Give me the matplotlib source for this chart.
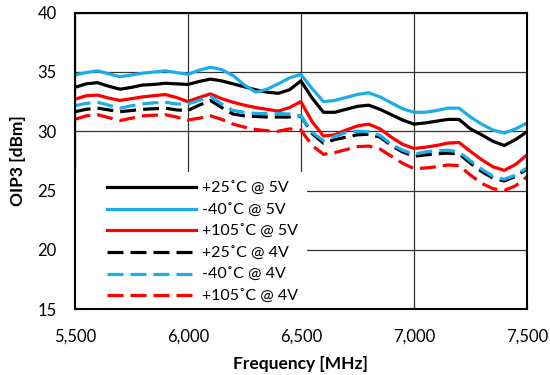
import matplotlib.pyplot as plt
from matplotlib.patches import Rectangle
from matplotlib.ticker import FuncFormatter

freq = list(range(5500, 7501, 50))

t25_5v = [33.7, 34.0, 34.1, 33.8, 33.55, 33.7, 33.9, 33.95, 34.05, 34.0,
          33.95, 34.2, 34.4, 34.25, 34.0, 33.75, 33.5, 33.3, 33.2, 33.5,
          34.25, 32.8, 31.6, 31.6, 31.85, 32.1, 32.2, 31.85, 31.4, 30.95,
          30.6, 30.7, 30.85, 31.0, 31.0, 30.2, 29.7, 29.15, 28.8, 29.3, 29.95]
tm40_5v = [34.75, 34.95, 35.1, 34.85, 34.6, 34.75, 34.9, 35.0, 35.1, 34.95,
           34.8, 35.15, 35.4, 35.2, 34.7, 33.9, 33.3, 33.55, 34.0, 34.5,
           34.8, 33.6, 32.5, 32.6, 32.85, 33.1, 33.25, 32.9, 32.4, 31.9,
           31.6, 31.6, 31.75, 31.95, 31.95, 31.2, 30.6, 30.1, 29.85, 30.2, 30.7]
t105_5v = [32.7, 33.0, 33.05, 32.8, 32.6, 32.75, 32.9, 33.0, 33.1, 32.85,
           32.5, 32.85, 33.15, 32.75, 32.45, 32.2, 32.0, 31.85, 31.7, 32.0,
           32.5, 30.8, 29.6, 29.7, 30.1, 30.45, 30.6, 30.2, 29.5, 28.9,
           28.55, 28.65, 28.8, 29.0, 29.05, 28.3, 27.6, 27.0, 26.7, 27.2, 28.0]
t25_4v = [31.65, 31.85, 31.95, 31.8, 31.65, 31.75, 31.85, 31.9, 31.95, 31.8,
          31.75, 32.2, 32.6, 32.0, 31.45, 31.3, 31.25, 31.2, 31.2, 31.2,
          31.3, 29.8, 29.0, 29.3, 29.5, 29.7, 29.75, 29.5, 28.8, 28.25,
          27.9, 28.0, 28.1, 28.15, 28.1, 27.3, 26.6, 26.05, 25.8, 26.2, 26.8]
tm40_4v = [32.15, 32.35, 32.45, 32.2, 31.95, 32.15, 32.3, 32.4, 32.45, 32.3,
           32.3, 32.6, 32.95, 32.3, 31.75, 31.6, 31.5, 31.5, 31.5, 31.45,
           31.3, 29.9, 29.2, 29.55, 29.9, 30.0, 29.95, 29.65, 28.9, 28.4,
           28.05, 28.25, 28.35, 28.4, 28.25, 27.5, 26.8, 26.2, 25.95, 26.3, 26.9]
t105_4v = [31.0, 31.3, 31.4, 31.15, 30.9, 31.1, 31.3, 31.35, 31.4, 31.2,
           30.95, 31.1, 31.3, 31.0, 30.6, 30.35, 30.15, 30.05, 30.0, 30.2,
           30.1, 28.8, 28.05, 28.2, 28.45, 28.7, 28.75, 28.5, 27.9, 27.3,
           26.85, 26.9, 27.0, 27.15, 27.1, 26.3, 25.6, 25.15, 25.0, 25.4, 26.15]

plt.rcParams['font.family'] = ['Lato', 'DejaVu Sans']

fig = plt.figure(figsize=(5.5, 3.75), dpi=100)
ax = fig.add_axes([0.136, 0.176, 0.822, 0.790])

black = '#000000'
blue = '#1AADE8'
red = '#FF0000'
dash = (5, 2.2)
lw = 2.3

ax.plot(freq, t25_5v, color=black, lw=lw, label='+25˚C @ 5V')
ax.plot(freq, tm40_5v, color=blue, lw=lw, label='-40˚C @ 5V')
ax.plot(freq, t105_5v, color=red, lw=lw, label='+105˚C @ 5V')
ax.plot(freq, t25_4v, color=black, lw=lw, ls=(0, dash), label='+25˚C @ 4V')
ax.plot(freq, tm40_4v, color=blue, lw=lw, ls=(0, dash), label='-40˚C @ 4V')
ax.plot(freq, t105_4v, color=red, lw=lw, ls=(0, dash), label='+105˚C @ 4V')

ax.set_xlim(5500, 7500)
ax.set_ylim(15, 40)
ax.set_xticks(range(5500, 7501, 500))
ax.set_yticks(range(15, 41, 5))
ax.xaxis.set_major_formatter(FuncFormatter(lambda v, p: f'{int(v):,}'))
ax.grid(True, color='#333333', lw=0.9)
ax.set_axisbelow(True)
ax.tick_params(direction='in', length=4, labelsize=12, color='#333333', pad=13)
ax.tick_params(axis='x', pad=14)
for s in ax.spines.values():
    s.set_linewidth(1.5)
    s.set_color('black')

ax.set_xlabel('Frequency [MHz]', fontsize=12.5, fontweight='bold', labelpad=8)
ax.set_ylabel('OIP3 [dBm]', fontsize=12.5, fontweight='bold', labelpad=8)

# white box behind the legend, covering the grid
ax.add_patch(Rectangle((0, 0), 0.513, 0.463, transform=ax.transAxes,
                       facecolor='white', edgecolor='none', zorder=1.5))

leg = ax.legend(loc='lower left', bbox_to_anchor=(0.071, 0.018), frameon=False,
                fontsize=11.5, handlelength=5.55, handletextpad=0.42,
                labelspacing=0.46, borderpad=0, borderaxespad=0)

fig.savefig('out.png', dpi=100)
